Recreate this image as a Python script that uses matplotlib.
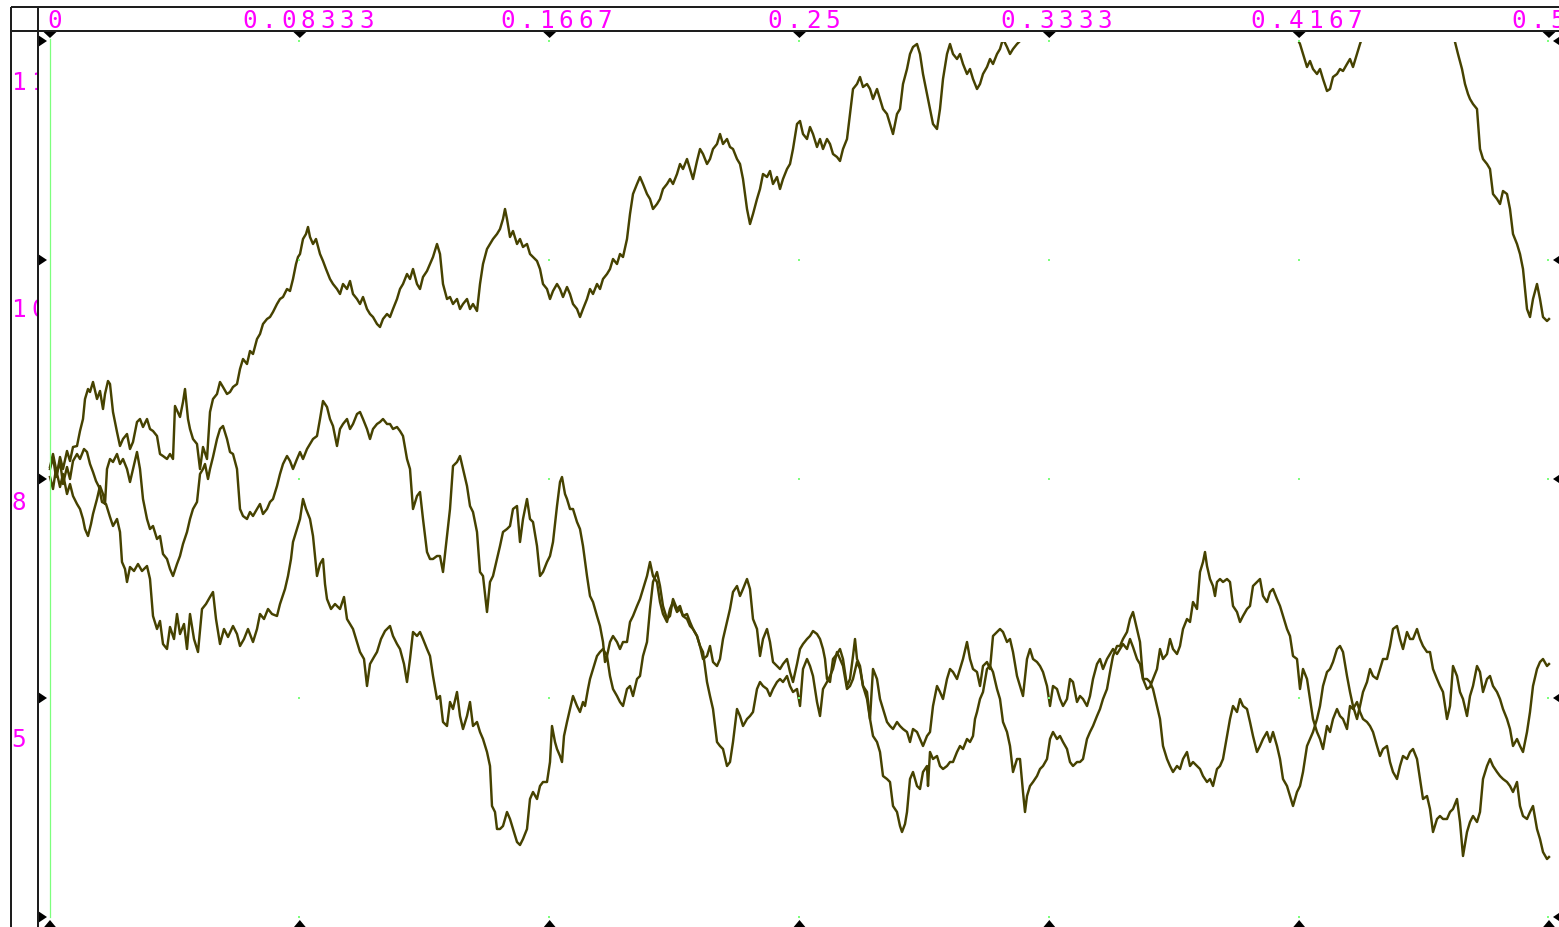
import numpy as np
import matplotlib
matplotlib.use("Agg")
import matplotlib.pyplot as plt
from matplotlib.patches import Polygon

# ---- data -------------------------------------------------------------
# Each path is a list of (step, value) samples; one step = 0.5 / 1499 in t.
N_STEPS = 1499
T_END = 0.5

upper_path = [
    (0, 8.12), (3, 8.25), (7, 8.05), (10, 8.22), (13, 8.10), (17, 8.28), (20, 8.18), (23, 8.32),
    (27, 8.33), (30, 8.48), (33, 8.60), (35, 8.80), (38, 8.90), (40, 8.87), (43, 8.97), (47, 8.80),
    (50, 8.88), (53, 8.70), (55, 8.85), (58, 8.98), (60, 8.95), (63, 8.67), (67, 8.47), (70, 8.33),
    (73, 8.40), (77, 8.45), (80, 8.30), (83, 8.37), (87, 8.57), (90, 8.60), (93, 8.52), (97, 8.60),
    (100, 8.50), (103, 8.48), (107, 8.43), (110, 8.25), (113, 8.23), (117, 8.20), (120, 8.25), (123, 8.20),
    (125, 8.73), (130, 8.62), (133, 8.77), (135, 8.90), (138, 8.60), (140, 8.50), (143, 8.40), (147, 8.35),
    (150, 8.10), (153, 8.32), (157, 8.20), (160, 8.67), (163, 8.80), (167, 8.85), (170, 8.97), (173, 8.92),
    (177, 8.85), (180, 8.87), (183, 8.92), (187, 8.95), (190, 9.10), (193, 9.20), (197, 9.15), (200, 9.28),
    (203, 9.25), (207, 9.40), (210, 9.45), (213, 9.55), (217, 9.60), (220, 9.62), (223, 9.67), (227, 9.75),
    (230, 9.80), (233, 9.82), (237, 9.90), (240, 9.88), (243, 10.00), (246, 10.15), (248, 10.22), (250, 10.25),
    (253, 10.40), (256, 10.45), (258, 10.52), (260, 10.42), (263, 10.35), (266, 10.40), (270, 10.25), (273, 10.18),
    (276, 10.10), (280, 10.00), (283, 9.95), (287, 9.90), (290, 9.85), (293, 9.95), (297, 9.90), (300, 9.98),
    (303, 9.85), (307, 9.80), (310, 9.75), (313, 9.82), (317, 9.70), (320, 9.65), (323, 9.62), (327, 9.55),
    (330, 9.52), (333, 9.60), (337, 9.65), (340, 9.62), (343, 9.70), (347, 9.80), (350, 9.90), (353, 9.95),
    (357, 10.05), (360, 10.00), (363, 10.10), (367, 9.95), (370, 9.90), (373, 10.02), (377, 10.08), (380, 10.15),
    (383, 10.22), (387, 10.35), (390, 10.25), (393, 9.95), (397, 9.80), (400, 9.82), (403, 9.75), (407, 9.80),
    (410, 9.70), (413, 9.75), (417, 9.80), (420, 9.70), (423, 9.75), (427, 9.68), (430, 9.95), (433, 10.15),
    (437, 10.30), (440, 10.35), (443, 10.40), (447, 10.45), (450, 10.50), (453, 10.60), (455, 10.70), (457, 10.60),
    (460, 10.42), (463, 10.48), (467, 10.35), (470, 10.40), (473, 10.32), (477, 10.35), (480, 10.25), (483, 10.22),
    (487, 10.18), (490, 10.10), (493, 9.95), (497, 9.90), (500, 9.80), (503, 9.88), (507, 9.95), (510, 9.90),
    (513, 9.82), (517, 9.92), (520, 9.85), (523, 9.75), (527, 9.70), (530, 9.62), (533, 9.70), (537, 9.80),
    (540, 9.90), (543, 9.85), (547, 9.95), (550, 9.90), (553, 10.00), (557, 10.05), (560, 10.10), (563, 10.20),
    (567, 10.15), (570, 10.25), (573, 10.22), (577, 10.40), (580, 10.65), (583, 10.85), (587, 10.95), (590, 11.02),
    (593, 10.95), (597, 10.85), (600, 10.80), (603, 10.70), (607, 10.75), (610, 10.80), (613, 10.90), (617, 10.95),
    (620, 11.00), (623, 10.95), (627, 11.05), (630, 11.15), (633, 11.10), (637, 11.20), (640, 11.10), (643, 11.00),
    (647, 11.18), (650, 11.30), (653, 11.25), (657, 11.15), (660, 11.20), (663, 11.30), (667, 11.35), (670, 11.45),
    (673, 11.35), (677, 11.40), (680, 11.32), (683, 11.30), (687, 11.20), (690, 11.15), (693, 11.00), (697, 10.70),
    (700, 10.55), (703, 10.65), (707, 10.80), (710, 10.90), (713, 11.05), (717, 11.02), (720, 11.08), (723, 10.95),
    (727, 11.02), (730, 10.90), (733, 11.00), (737, 11.10), (740, 11.15), (743, 11.30), (747, 11.55), (750, 11.58),
    (753, 11.45), (757, 11.40), (760, 11.52), (763, 11.45), (767, 11.32), (770, 11.40), (773, 11.30), (777, 11.40),
    (780, 11.35), (783, 11.25), (787, 11.22), (790, 11.18), (793, 11.30), (797, 11.40), (800, 11.65), (803, 11.90),
    (807, 11.95), (810, 12.02), (813, 11.92), (817, 11.95), (820, 11.90), (823, 11.80), (827, 11.90), (830, 11.80),
    (833, 11.70), (837, 11.65), (840, 11.55), (843, 11.45), (847, 11.65), (850, 11.70), (853, 11.95), (857, 12.10),
    (860, 12.25), (863, 12.32), (867, 12.35), (870, 12.25), (873, 12.05), (877, 11.85), (880, 11.70), (883, 11.55),
    (887, 11.50), (890, 11.70), (893, 12.00), (897, 12.25), (900, 12.35), (903, 12.25), (907, 12.20), (910, 12.25),
    (913, 12.15), (917, 12.05), (920, 12.10), (923, 12.00), (927, 11.90), (930, 11.95), (933, 12.05), (937, 12.12),
    (940, 12.20), (943, 12.15), (947, 12.25), (950, 12.30), (953, 12.40), (957, 12.32), (960, 12.25), (963, 12.30),
    (967, 12.35), (970, 12.38), (975, 12.50), (990, 12.70), (1010, 12.90), (1030, 13.10), (1050, 13.20), (1070, 13.30),
    (1090, 13.35), (1110, 13.25), (1130, 13.05), (1150, 13.00), (1170, 12.85), (1190, 12.75), (1210, 12.65), (1230, 12.60),
    (1245, 12.45), (1250, 12.35), (1253, 12.25), (1257, 12.12), (1260, 12.18), (1263, 12.10), (1267, 12.05), (1270, 12.10),
    (1273, 12.00), (1277, 11.88), (1280, 11.90), (1283, 12.02), (1287, 12.05), (1290, 12.10), (1293, 12.08), (1297, 12.15),
    (1300, 12.20), (1303, 12.12), (1307, 12.25), (1310, 12.35), (1315, 12.50), (1330, 12.75), (1350, 12.95), (1370, 12.95),
    (1390, 12.75), (1402, 12.50), (1405, 12.37), (1408, 12.25), (1412, 12.10), (1415, 11.95), (1418, 11.85), (1420, 11.80),
    (1423, 11.75), (1427, 11.70), (1430, 11.30), (1433, 11.20), (1437, 11.15), (1440, 11.10), (1443, 10.85), (1447, 10.80),
    (1450, 10.75), (1453, 10.88), (1457, 10.85), (1460, 10.70), (1463, 10.45), (1467, 10.35), (1470, 10.25), (1473, 10.10),
    (1477, 9.70), (1480, 9.62), (1483, 9.80), (1487, 9.95), (1490, 9.80), (1493, 9.62), (1497, 9.58), (1499, 9.60),
]

middle_path = [
    (0, 8.02), (3, 7.90), (6, 8.10), (10, 7.92), (13, 8.05), (17, 7.85), (20, 7.95), (23, 7.83),
    (27, 7.75), (30, 7.70), (33, 7.60), (35, 7.50), (38, 7.43), (41, 7.55), (43, 7.65), (47, 7.80),
    (50, 7.93), (53, 7.85), (55, 7.75), (57, 8.10), (60, 8.20), (63, 8.17), (67, 8.25), (70, 8.15),
    (73, 8.20), (77, 8.10), (80, 7.97), (83, 8.10), (87, 8.27), (90, 8.10), (93, 7.80), (97, 7.60),
    (100, 7.50), (103, 7.53), (107, 7.40), (110, 7.43), (113, 7.25), (117, 7.20), (120, 7.10), (123, 7.03),
    (127, 7.15), (130, 7.23), (133, 7.35), (137, 7.47), (140, 7.60), (143, 7.70), (147, 7.77), (150, 8.05),
    (153, 8.10), (155, 8.15), (158, 8.00), (160, 8.10), (163, 8.22), (167, 8.40), (170, 8.50), (173, 8.53),
    (177, 8.40), (180, 8.27), (183, 8.25), (187, 8.10), (190, 7.70), (193, 7.63), (197, 7.60), (200, 7.67),
    (203, 7.63), (207, 7.70), (210, 7.75), (213, 7.65), (217, 7.70), (220, 7.77), (223, 7.80), (227, 7.93),
    (230, 8.05), (233, 8.15), (237, 8.23), (240, 8.18), (243, 8.10), (247, 8.20), (250, 8.27), (253, 8.20),
    (257, 8.30), (260, 8.35), (263, 8.40), (267, 8.43), (270, 8.60), (273, 8.78), (277, 8.72), (280, 8.60),
    (283, 8.53), (287, 8.33), (290, 8.50), (293, 8.55), (297, 8.60), (300, 8.50), (303, 8.55), (307, 8.65),
    (310, 8.67), (313, 8.60), (317, 8.50), (320, 8.40), (323, 8.50), (327, 8.55), (330, 8.57), (333, 8.60),
    (337, 8.55), (340, 8.55), (343, 8.50), (347, 8.52), (350, 8.48), (353, 8.43), (357, 8.20), (360, 8.10),
    (363, 7.70), (367, 7.83), (370, 7.87), (373, 7.60), (377, 7.27), (380, 7.20), (383, 7.20), (387, 7.23),
    (390, 7.23), (393, 7.07), (397, 7.43), (400, 7.70), (403, 8.13), (407, 8.17), (410, 8.23), (413, 8.10),
    (417, 7.93), (420, 7.73), (423, 7.67), (427, 7.47), (430, 7.07), (433, 7.03), (437, 6.67), (440, 6.97),
    (443, 7.03), (447, 7.20), (450, 7.33), (453, 7.47), (457, 7.50), (460, 7.53), (463, 7.70), (467, 7.73),
    (470, 7.37), (473, 7.60), (477, 7.80), (480, 7.60), (483, 7.57), (487, 7.33), (490, 7.03), (493, 7.07),
    (497, 7.17), (500, 7.23), (503, 7.37), (507, 7.73), (510, 7.97), (512, 8.02), (515, 7.85), (517, 7.80),
    (520, 7.70), (523, 7.70), (527, 7.57), (530, 7.50), (533, 7.33), (537, 7.03), (540, 6.83), (543, 6.77),
    (547, 6.63), (550, 6.53), (553, 6.37), (555, 6.17), (557, 6.23), (560, 6.03), (563, 5.90), (567, 5.83),
    (570, 5.77), (573, 5.73), (577, 5.90), (580, 5.93), (583, 5.83), (587, 6.00), (590, 6.03), (593, 6.23),
    (597, 6.37), (600, 6.70), (603, 6.97), (607, 7.07), (610, 6.93), (613, 6.73), (617, 6.60), (620, 6.63),
    (623, 6.80), (627, 6.70), (630, 6.73), (633, 6.63), (637, 6.60), (640, 6.53), (643, 6.50), (647, 6.43),
    (650, 6.33), (653, 6.20), (657, 6.23), (660, 6.33), (663, 6.17), (667, 6.13), (670, 6.20), (673, 6.40),
    (677, 6.57), (680, 6.70), (683, 6.87), (687, 6.93), (690, 6.83), (693, 6.90), (697, 7.00), (700, 6.90),
    (703, 6.60), (707, 6.50), (710, 6.23), (713, 6.40), (717, 6.50), (720, 6.37), (723, 6.17), (727, 6.13),
    (730, 6.10), (733, 6.15), (737, 6.20), (740, 6.07), (743, 5.97), (747, 6.15), (750, 6.30), (753, 6.35),
    (757, 6.40), (760, 6.43), (763, 6.48), (767, 6.45), (770, 6.40), (773, 6.30), (775, 6.20), (777, 6.00),
    (780, 5.97), (783, 6.20), (787, 6.25), (790, 6.30), (793, 6.20), (797, 5.93), (800, 6.00), (803, 6.23),
    (805, 6.40), (807, 6.20), (810, 6.13), (813, 5.93), (817, 5.87), (820, 5.60), (823, 5.43), (827, 5.37),
    (830, 5.27), (833, 5.03), (837, 5.00), (840, 4.97), (843, 4.73), (847, 4.67), (850, 4.53), (852, 4.47),
    (855, 4.55), (857, 4.67), (860, 5.00), (863, 5.07), (867, 4.93), (870, 4.90), (873, 5.07), (877, 5.13),
    (878, 4.93), (880, 5.27), (883, 5.20), (887, 5.23), (890, 5.13), (893, 5.10), (897, 5.13), (900, 5.17),
    (903, 5.17), (907, 5.27), (910, 5.33), (913, 5.30), (917, 5.40), (920, 5.37), (923, 5.43), (925, 5.60),
    (927, 5.67), (930, 5.80), (933, 5.87), (937, 6.10), (940, 6.13), (943, 6.07), (947, 5.90), (950, 5.80),
    (953, 5.57), (957, 5.47), (960, 5.33), (963, 5.07), (967, 5.20), (970, 5.20), (973, 4.87), (975, 4.67),
    (977, 4.83), (980, 4.93), (983, 4.97), (987, 5.03), (990, 5.10), (993, 5.13), (997, 5.20), (1000, 5.40),
    (1003, 5.47), (1007, 5.40), (1010, 5.43), (1013, 5.37), (1017, 5.30), (1020, 5.17), (1023, 5.13), (1027, 5.17),
    (1030, 5.17), (1033, 5.20), (1037, 5.40), (1040, 5.47), (1043, 5.53), (1047, 5.63), (1050, 5.70), (1053, 5.80),
    (1057, 5.90), (1060, 6.07), (1063, 6.23), (1067, 6.33), (1070, 6.33), (1073, 6.40), (1077, 6.47), (1080, 6.60),
    (1083, 6.67), (1087, 6.50), (1090, 6.37), (1093, 6.00), (1097, 6.00), (1100, 5.97), (1103, 5.90), (1107, 5.73),
    (1110, 5.60), (1113, 5.33), (1117, 5.20), (1120, 5.13), (1123, 5.07), (1127, 5.13), (1130, 5.10), (1133, 5.20),
    (1137, 5.27), (1140, 5.13), (1143, 5.17), (1147, 5.13), (1150, 5.10), (1153, 5.03), (1157, 4.97), (1160, 5.00),
    (1163, 4.93), (1167, 5.10), (1170, 5.13), (1173, 5.20), (1177, 5.43), (1180, 5.60), (1183, 5.73), (1187, 5.67),
    (1190, 5.80), (1193, 5.73), (1197, 5.70), (1200, 5.57), (1203, 5.43), (1207, 5.27), (1210, 5.33), (1213, 5.40),
    (1217, 5.47), (1220, 5.37), (1223, 5.47), (1227, 5.33), (1230, 5.20), (1233, 5.00), (1237, 4.93), (1240, 4.83),
    (1243, 4.73), (1247, 4.87), (1250, 4.93), (1253, 5.07), (1257, 5.33), (1260, 5.40), (1263, 5.47), (1267, 5.60),
    (1270, 5.73), (1273, 5.93), (1277, 6.07), (1280, 6.10), (1283, 6.17), (1287, 6.30), (1290, 6.33), (1293, 6.27),
    (1297, 6.03), (1300, 5.87), (1303, 5.73), (1307, 5.60), (1310, 5.73), (1313, 5.87), (1317, 5.97), (1320, 6.10),
    (1323, 6.03), (1327, 6.00), (1330, 6.10), (1333, 6.20), (1337, 6.20), (1340, 6.33), (1343, 6.50), (1347, 6.53),
    (1350, 6.40), (1353, 6.30), (1357, 6.47), (1360, 6.40), (1363, 6.40), (1367, 6.50), (1370, 6.40), (1373, 6.33),
    (1377, 6.27), (1380, 6.27), (1383, 6.10), (1387, 6.00), (1390, 5.93), (1393, 5.87), (1397, 5.60), (1400, 5.73),
    (1403, 6.13), (1407, 6.03), (1410, 5.87), (1413, 5.80), (1417, 5.63), (1420, 5.83), (1423, 5.93), (1427, 6.13),
    (1430, 6.07), (1433, 5.87), (1437, 6.00), (1440, 6.03), (1443, 5.93), (1447, 5.87), (1450, 5.80), (1453, 5.70),
    (1457, 5.60), (1460, 5.50), (1463, 5.33), (1467, 5.40), (1470, 5.33), (1473, 5.27), (1477, 5.47), (1480, 5.67),
    (1483, 5.93), (1487, 6.10), (1490, 6.17), (1493, 6.20), (1497, 6.13), (1499, 6.15),
]

lower_path = [
    (0, 8.10), (3, 8.22), (6, 8.02), (10, 8.18), (13, 7.95), (17, 8.12), (20, 8.00), (23, 8.18),
    (27, 8.25), (30, 8.20), (34, 8.30), (37, 8.27), (40, 8.15), (43, 8.07), (46, 7.98), (49, 7.92),
    (52, 7.77), (56, 7.75), (60, 7.62), (63, 7.53), (67, 7.60), (70, 7.47), (72, 7.17), (75, 7.10),
    (77, 6.97), (80, 7.12), (84, 7.08), (88, 7.15), (92, 7.08), (97, 7.13), (100, 7.00), (103, 6.63),
    (107, 6.50), (110, 6.58), (113, 6.35), (117, 6.30), (120, 6.52), (124, 6.40), (127, 6.65), (130, 6.45),
    (134, 6.55), (137, 6.30), (140, 6.65), (144, 6.40), (148, 6.27), (152, 6.70), (156, 6.75), (160, 6.82),
    (163, 6.87), (166, 6.60), (170, 6.35), (174, 6.50), (178, 6.42), (183, 6.53), (187, 6.45), (190, 6.33),
    (194, 6.40), (198, 6.50), (203, 6.37), (207, 6.50), (210, 6.65), (214, 6.60), (218, 6.70), (222, 6.65),
    (227, 6.63), (230, 6.75), (235, 6.90), (238, 7.03), (241, 7.20), (243, 7.37), (247, 7.50), (250, 7.60),
    (253, 7.80), (256, 7.70), (260, 7.60), (263, 7.43), (267, 7.03), (270, 7.15), (273, 7.20), (275, 6.95),
    (277, 6.80), (281, 6.70), (285, 6.75), (290, 6.70), (294, 6.82), (297, 6.60), (300, 6.55), (303, 6.50),
    (307, 6.37), (310, 6.27), (314, 6.20), (317, 5.93), (320, 6.15), (324, 6.22), (327, 6.27), (331, 6.40),
    (335, 6.48), (340, 6.53), (343, 6.43), (347, 6.35), (350, 6.30), (354, 6.15), (357, 5.97), (360, 6.20),
    (363, 6.47), (367, 6.43), (370, 6.47), (373, 6.40), (377, 6.30), (380, 6.23), (383, 6.03), (387, 5.80),
    (390, 5.83), (393, 5.57), (397, 5.53), (400, 5.77), (403, 5.70), (407, 5.87), (410, 5.63), (413, 5.50),
    (417, 5.63), (420, 5.77), (423, 5.53), (427, 5.57), (430, 5.47), (433, 5.40), (437, 5.27), (440, 5.13),
    (442, 4.73), (445, 4.67), (447, 4.50), (450, 4.50), (453, 4.53), (457, 4.67), (460, 4.60), (463, 4.50),
    (467, 4.37), (470, 4.34), (473, 4.40), (477, 4.50), (480, 4.80), (483, 4.87), (487, 4.80), (490, 4.93),
    (493, 4.97), (497, 4.97), (500, 5.17), (502, 5.53), (505, 5.37), (507, 5.30), (510, 5.23), (512, 5.17),
    (514, 5.43), (517, 5.57), (520, 5.70), (523, 5.83), (527, 5.73), (530, 5.67), (533, 5.77), (535, 5.73),
    (538, 5.90), (540, 6.00), (543, 6.10), (547, 6.23), (550, 6.27), (553, 6.30), (557, 6.23), (560, 6.37),
    (563, 6.43), (567, 6.37), (570, 6.30), (573, 6.37), (577, 6.37), (580, 6.57), (583, 6.63), (587, 6.73),
    (590, 6.80), (593, 6.90), (597, 7.03), (600, 7.17), (603, 7.03), (607, 6.97), (610, 6.77), (613, 6.65),
    (617, 6.57), (620, 6.70), (623, 6.77), (627, 6.67), (630, 6.70), (633, 6.63), (637, 6.65), (640, 6.57),
    (643, 6.50), (647, 6.43), (650, 6.33), (653, 6.27), (657, 5.97), (660, 5.83), (663, 5.70), (667, 5.37),
    (670, 5.33), (673, 5.30), (677, 5.13), (680, 5.17), (683, 5.37), (687, 5.70), (690, 5.63), (693, 5.53),
    (697, 5.60), (700, 5.63), (703, 5.67), (707, 5.90), (710, 5.97), (713, 5.93), (717, 5.90), (720, 5.83),
    (723, 5.90), (727, 5.97), (730, 6.00), (733, 5.97), (737, 6.03), (740, 5.93), (743, 5.87), (747, 5.90),
    (750, 5.73), (753, 6.10), (757, 6.20), (760, 6.13), (763, 6.03), (767, 5.77), (770, 5.63), (773, 5.90),
    (777, 5.97), (780, 6.03), (783, 6.10), (787, 6.27), (790, 6.20), (793, 6.13), (797, 5.90), (800, 5.93),
    (803, 6.00), (807, 6.17), (810, 6.10), (813, 5.93), (817, 5.80), (820, 5.60), (823, 6.10), (827, 6.00),
    (830, 5.80), (833, 5.70), (837, 5.57), (840, 5.53), (843, 5.50), (847, 5.57), (850, 5.53), (853, 5.50),
    (857, 5.47), (860, 5.37), (863, 5.50), (867, 5.47), (870, 5.40), (873, 5.33), (877, 5.43), (880, 5.47),
    (883, 5.73), (887, 5.93), (890, 5.87), (893, 5.80), (897, 6.00), (900, 6.10), (903, 6.07), (907, 6.00),
    (910, 6.10), (913, 6.20), (917, 6.37), (920, 6.20), (923, 6.10), (927, 6.07), (930, 5.93), (933, 6.13),
    (937, 6.17), (940, 6.10), (943, 6.43), (947, 6.47), (950, 6.50), (953, 6.47), (957, 6.37), (960, 6.40),
    (963, 6.27), (967, 6.03), (970, 5.93), (973, 5.83), (977, 6.20), (980, 6.30), (983, 6.20), (987, 6.17),
    (990, 6.13), (993, 6.07), (997, 5.93), (1000, 5.73), (1003, 5.93), (1007, 5.90), (1010, 5.80), (1013, 5.73),
    (1017, 5.80), (1020, 6.00), (1023, 5.97), (1027, 5.77), (1030, 5.83), (1033, 5.80), (1037, 5.73), (1040, 5.83),
    (1043, 6.00), (1047, 6.15), (1050, 6.20), (1053, 6.10), (1057, 6.20), (1060, 6.25), (1063, 6.30), (1067, 6.25),
    (1070, 6.30), (1073, 6.35), (1077, 6.30), (1080, 6.40), (1083, 6.32), (1087, 6.20), (1090, 6.15), (1093, 6.00),
    (1097, 5.90), (1100, 5.92), (1103, 6.00), (1107, 6.10), (1110, 6.30), (1113, 6.20), (1117, 6.25), (1120, 6.40),
    (1123, 6.30), (1127, 6.25), (1130, 6.33), (1133, 6.50), (1137, 6.60), (1140, 6.57), (1143, 6.77), (1147, 6.70),
    (1148, 6.83), (1150, 7.07), (1153, 7.17), (1155, 7.27), (1157, 7.13), (1160, 7.00), (1163, 6.93), (1165, 6.83),
    (1167, 6.97), (1170, 7.00), (1173, 6.97), (1177, 7.00), (1180, 6.97), (1183, 6.73), (1187, 6.67), (1190, 6.57),
    (1193, 6.63), (1197, 6.70), (1200, 6.73), (1203, 6.93), (1207, 6.97), (1210, 7.00), (1213, 6.83), (1217, 6.77),
    (1220, 6.87), (1223, 6.90), (1227, 6.80), (1230, 6.73), (1233, 6.63), (1237, 6.50), (1240, 6.43), (1243, 6.23),
    (1247, 6.20), (1250, 5.90), (1253, 6.10), (1257, 6.00), (1260, 5.80), (1263, 5.60), (1267, 5.47), (1270, 5.40),
    (1273, 5.30), (1277, 5.53), (1280, 5.47), (1283, 5.60), (1287, 5.70), (1290, 5.63), (1293, 5.60), (1297, 5.50),
    (1300, 5.73), (1303, 5.70), (1307, 5.77), (1310, 5.67), (1313, 5.60), (1317, 5.57), (1320, 5.53), (1323, 5.47),
    (1327, 5.33), (1330, 5.23), (1333, 5.30), (1337, 5.33), (1340, 5.17), (1343, 5.07), (1347, 5.00), (1350, 5.13),
    (1353, 5.23), (1357, 5.20), (1360, 5.27), (1363, 5.30), (1367, 5.20), (1370, 5.00), (1373, 4.80), (1377, 4.83),
    (1380, 4.70), (1383, 4.47), (1387, 4.60), (1390, 4.63), (1393, 4.60), (1397, 4.60), (1400, 4.67), (1403, 4.70),
    (1407, 4.80), (1410, 4.57), (1413, 4.23), (1417, 4.47), (1420, 4.57), (1423, 4.63), (1427, 4.57), (1430, 4.67),
    (1433, 5.00), (1437, 5.13), (1440, 5.20), (1443, 5.13), (1447, 5.07), (1450, 5.03), (1453, 5.00), (1457, 4.97),
    (1460, 4.93), (1463, 4.87), (1467, 4.97), (1470, 4.73), (1473, 4.63), (1477, 4.60), (1480, 4.67), (1483, 4.73),
    (1487, 4.50), (1490, 4.40), (1493, 4.27), (1497, 4.20), (1499, 4.22),
]

x_ticks = [0, 1 / 12, 2 / 12, 3 / 12, 4 / 12, 5 / 12, 6 / 12]
x_labels = ["0", "0.08333", "0.1667", "0.25", "0.3333", "0.4167", "0.5"]
y_labels = ["11", "10", "8", "5"]

# ---- layout (pixels) ----------------------------------------------------
W, H = 1559, 928
X0 = 50.0                 # pixel of t = 0
PX_PER_T = 1499 / 0.5     # horizontal scale
V_TOP = 12.8              # value at pixel row 0
PX_PER_V = 100.0          # vertical scale
PLOT_TOP = 43             # lines are clipped below this row
FRAME_L = 38
HEAD_Y = 32

LINE_C = "#464200"
FRAME_C = "#1e1e1e"
MAGENTA = "#ff00ff"
GREEN = "#7dff7d"

fig = plt.figure(figsize=(W / 100, H / 100), dpi=100)
fig.patch.set_facecolor("white")

# data axes, placed so that data units map onto the pixel grid above
ax = fig.add_axes([FRAME_L / W, 0, (W - FRAME_L) / W, (H - PLOT_TOP) / H])
ax.set_xlim((FRAME_L - X0) / PX_PER_T, (W - X0) / PX_PER_T)
ax.set_ylim(V_TOP - H / PX_PER_V, V_TOP - PLOT_TOP / PX_PER_V)
ax.axis("off")
for path in (upper_path, middle_path, lower_path):
    steps, vals = zip(*path)
    tt = np.asarray(steps) * (T_END / N_STEPS)
    ax.plot(tt, vals, color=LINE_C, lw=1.75)

# overlay in pixel coordinates for frame, markers and labels
ov = fig.add_axes([0, 0, 1, 1], zorder=5)
ov.set_xlim(0, W)
ov.set_ylim(H, 0)
ov.axis("off")
ov.patch.set_alpha(0)

def to_px(tv):
    return X0 + tv * PX_PER_T

lw_frame = 2 * 72 / 100
ov.plot([11, W], [8, 8], color=FRAME_C, lw=lw_frame, solid_capstyle="butt")
ov.plot([11, W], [HEAD_Y, HEAD_Y], color=FRAME_C, lw=lw_frame, solid_capstyle="butt")
ov.plot([11, 11], [8, H], color=FRAME_C, lw=lw_frame, solid_capstyle="butt")
ov.plot([FRAME_L, FRAME_L], [8, H], color=FRAME_C, lw=lw_frame, solid_capstyle="butt")

# green marker line at t = 0
ov.plot([to_px(0), to_px(0)], [40, 918], color=GREEN, lw=0.9)

rows = [42, 261, 480, 699, 918]
cols = [to_px(v) for v in x_ticks]

# grid dots
for cx in cols[1:]:
    for ry in rows:
        ov.add_patch(plt.Rectangle((cx - 1.5, ry - 1), 2, 2, color=GREEN, lw=0))

# tick triangles on all four sides
for cx in cols:
    ov.add_patch(Polygon([(cx - 7.5, HEAD_Y), (cx + 7.5, HEAD_Y), (cx, HEAD_Y + 7)],
                         closed=True, color="black", lw=0))
    ov.add_patch(Polygon([(cx - 7.5, H + 2), (cx + 7.5, H + 2), (cx, H - 7)],
                         closed=True, color="black", lw=0))
for ry in rows:
    ov.add_patch(Polygon([(FRAME_L, ry - 6), (FRAME_L, ry + 6), (FRAME_L + 9, ry)],
                         closed=True, color="black", lw=0))
    ov.add_patch(Polygon([(W + 3, ry - 6), (W + 3, ry + 6), (W - 6, ry)],
                         closed=True, color="black", lw=0))

FONT = dict(family="DejaVu Sans Mono", fontsize=17.5, color=MAGENTA)
PITCH = 19.5

def spaced_text(axis, s, x_left, baseline, clip=False):
    for i, ch in enumerate(s):
        axis.text(x_left + i * PITCH, baseline, ch, ha="left", va="baseline",
                  clip_on=clip, **FONT)

x_label_left = [47, 242, 500, 767, 1000, 1250, 1511]
for lab, xl in zip(x_labels, x_label_left):
    spaced_text(ov, lab, xl, 28)

# left label column, clipped by the inner frame line
lab_ax = fig.add_axes([11 / W, 0, (FRAME_L - 12) / W, 1], zorder=4)
lab_ax.set_xlim(11, FRAME_L - 1)
lab_ax.set_ylim(H, 0)
lab_ax.axis("off")
lab_ax.patch.set_alpha(0)
for lab, base in zip(y_labels, [90, 317, 510, 747]):
    spaced_text(lab_ax, lab, 11.5, base, clip=True)

fig.savefig("out.png", dpi=100, facecolor="white")
